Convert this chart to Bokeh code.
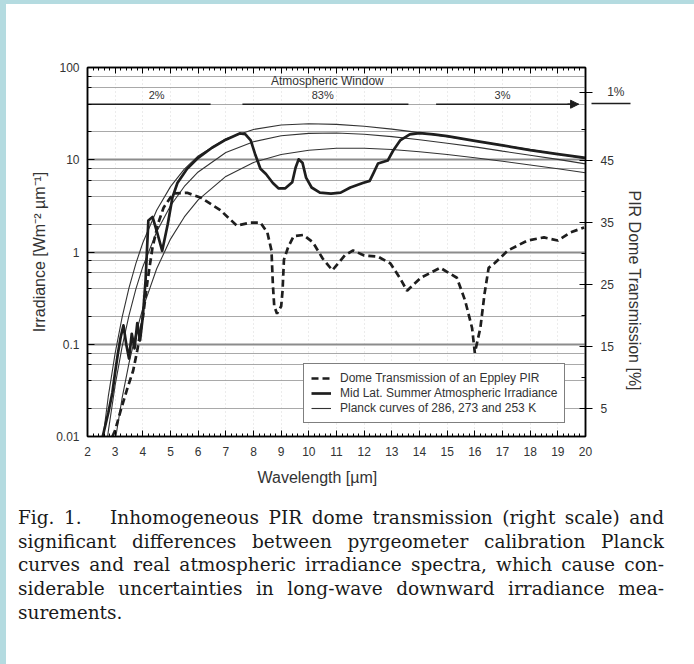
from bokeh.plotting import figure
from bokeh.models import (Range1d, LinearAxis, LinearScale, LogTicker, SingleIntervalTicker,
                          FixedTicker, CustomJSTickFormatter, Label, Legend, LegendItem, Arrow,
                          NormalHead, Div, Spacer, Title)
from bokeh.layouts import row, column
from bokeh.core.properties import value
from bokeh.embed import file_html
from bokeh.resources import INLINE

# ---------------- data ----------------
wl_planck = [2.5, 2.75, 3.0, 3.25, 3.5, 3.75, 4.0, 4.5, 5.0, 5.5, 6.0, 7.0, 8.0, 9.0, 10.0,
             11.0, 12.0, 13.0, 14.0, 15.0, 16.0, 17.0, 18.0, 19.0, 20.0]
planck_286 = [0.0070, 0.0270, 0.0803, 0.196, 0.408, 0.753, 1.26, 2.83, 5.11, 7.92, 11.0, 16.9,
              21.3, 23.8, 24.6, 24.2, 23.1, 21.5, 19.7, 17.8, 16.1, 14.4, 12.9, 11.5, 10.3]
planck_273 = [0.0027, 0.0113, 0.0361, 0.0936, 0.206, 0.398, 0.693, 1.66, 3.17, 5.13, 7.37, 12.0,
              15.7, 18.2, 19.3, 19.5, 18.9, 17.8, 16.5, 15.1, 13.8, 12.4, 11.2, 10.1, 9.03]
planck_253 = [0.00051, 0.0025, 0.0090, 0.0260, 0.0625, 0.131, 0.245, 0.658, 1.38, 2.40, 3.68,
              6.60, 9.35, 11.4, 12.7, 13.3, 13.3, 12.9, 12.2, 11.4, 10.5, 9.63, 8.78, 7.98, 7.23]

wl_atm = [2.55, 2.75, 2.9, 3.0, 3.1, 3.2, 3.3, 3.4, 3.5, 3.6, 3.7, 3.8, 3.9, 4.0, 4.1, 4.2,
          4.35, 4.5, 4.7, 4.9, 5.07, 5.25, 5.6, 6.0, 6.5, 7.0, 7.5, 7.7, 7.9, 8.05, 8.25, 8.45,
          8.7, 8.9, 9.15, 9.4, 9.52, 9.63, 9.77, 9.9, 10.1, 10.4, 10.8, 11.15, 11.5, 11.95,
          12.2, 12.35, 12.5, 12.85, 13.05, 13.3, 13.65, 14.0, 14.5, 15.0, 16.0, 17.0, 18.0,
          19.0, 20.0]
irr_atm = [0.010, 0.018, 0.030, 0.05, 0.08, 0.12, 0.16, 0.10, 0.07, 0.13, 0.09, 0.17, 0.11,
           0.20, 0.50, 2.2, 2.4, 1.7, 1.03, 2.0, 3.9, 5.6, 8.0, 10.5, 13.5, 16.5, 19.3, 19.0,
           16.2, 11.7, 8.0, 7.0, 5.6, 4.9, 4.9, 5.7, 8.2, 10.1, 9.3, 6.4, 5.0, 4.4, 4.3, 4.4,
           5.0, 5.6, 5.9, 7.3, 9.1, 9.8, 12.6, 16.2, 18.8, 19.4, 18.8, 18.0, 16.0, 14.3, 12.7,
           11.5, 10.5]

wl_dome = [2.9, 3.0, 3.2, 3.45, 3.65, 3.8, 4.0, 4.17, 4.35, 4.55, 4.75, 5.1, 5.6, 6.1, 6.8,
           7.4, 7.9, 8.25, 8.5, 8.65, 8.7, 8.75, 8.85, 9.0, 9.05, 9.1, 9.25, 9.45, 9.8, 10.15,
           10.5, 10.85, 11.3, 11.6, 12.0, 12.5, 12.95, 13.3, 13.55, 14.05, 14.75, 15.35, 15.65,
           15.9, 16.0, 16.2, 16.35, 16.5, 16.7, 17.2, 17.9, 18.5, 19.0, 19.45, 19.95]
dome_pct = [0.5, 1.5, 4.7, 8.4, 11.1, 14.4, 19.7, 25.6, 31.0, 34.8, 37.4, 39.7, 39.8, 39.0,
            37.0, 34.5, 35.0, 35.0, 33.4, 30.5, 25.0, 21.5, 20.3, 21.5, 24.0, 29.0, 31.0, 32.8,
            33.0, 31.8, 29.2, 27.3, 29.7, 30.5, 29.7, 29.5, 28.4, 26.0, 24.0, 26.1, 27.7, 26.1,
            22.4, 18.0, 14.0, 18.0, 23.5, 27.7, 28.4, 30.5, 32.1, 32.6, 32.1, 33.4, 34.2]

win_start = [2.0, 7.6, 14.6]
win_end = [6.45, 13.6, 19.75]
win_label = ["2%", "83%", "3%"]
win_label_x = [4.5, 10.5, 17.0]
win_level = [40, 40, 40]

pct_ticks = [5, 15, 25, 35, 45]
pct_minor = [10, 20, 30, 40, 50]
outside_label_level = 56.0   # "1%" window label beyond the right edge (right-scale units)
outside_line_level = 54.2    # its marker line

caption_lines = [
    "Fig. 1.&nbsp;&nbsp; Inhomogeneous PIR dome transmission (right scale) and",
    "significant differences between pyrgeometer calibration Planck",
    "curves and real atmospheric irradiance spectra, which cause con-",
    "siderable uncertainties in long-wave downward irradiance mea-",
    "surements.",
]

SANS = "Liberation Sans"
INK = "#1e1e1e"
TXT = "#333333"

# ---------------- figure ----------------
p = figure(width=688, height=496, x_range=Range1d(2, 20), y_range=Range1d(0.01, 100),
           y_axis_type="log", output_backend="svg", toolbar_location=None,
           min_border_left=81, min_border_right=109, min_border_top=63, min_border_bottom=64,
           background_fill_color="white", border_fill_color="white")
p.extra_y_ranges = {"pct": Range1d(0.5, 60)}
p.extra_y_scales = {"pct": LinearScale()}
p.outline_line_color = "black"
p.outline_line_width = 1.5

# bottom axis
xa = p.xaxis[0]
xa.ticker = SingleIntervalTicker(interval=1, num_minor_ticks=5)
xa.major_tick_in = 6
xa.major_tick_out = 0
xa.minor_tick_in = 3
xa.minor_tick_out = 0
xa.major_label_standoff = 10
xa.major_label_text_font = SANS
xa.major_label_text_font_size = "12px"
xa.major_label_text_color = TXT
xa.axis_line_color = "black"
xa.axis_line_width = 1.5

top = LinearAxis(ticker=SingleIntervalTicker(interval=1, num_minor_ticks=5),
                 major_tick_in=6, major_tick_out=0, minor_tick_in=3, minor_tick_out=0,
                 major_label_text_color=None, axis_line_color="black", axis_line_width=1.5)
p.add_layout(top, "above")

# left log axis
ya = p.yaxis[0]
ya.ticker = LogTicker()
ya.formatter = CustomJSTickFormatter(code="return Number(tick.toPrecision(3)).toString();")
ya.major_tick_in = 7
ya.major_tick_out = 0
ya.minor_tick_in = 4
ya.minor_tick_out = 0
ya.major_label_standoff = 8
ya.major_label_text_font = SANS
ya.major_label_text_font_size = "12px"
ya.major_label_text_color = TXT
ya.axis_line_color = "black"
ya.axis_line_width = 1.5
ya.axis_label = "Irradiance [Wm\u207b\u00b2 \u00b5m\u207b\u00b9]"
ya.axis_label_text_font = SANS
ya.axis_label_text_font_size = "16px"
ya.axis_label_text_font_style = "normal"
ya.axis_label_text_color = TXT
ya.axis_label_standoff = 5

# right percentage axis (plus the "1%" window label beyond the edge)
ra = LinearAxis(y_range_name="pct",
                ticker=FixedTicker(ticks=pct_ticks + [outside_label_level], minor_ticks=pct_minor),
                formatter=CustomJSTickFormatter(
                    code="return tick > 52 ? '\\u00a0\\u00a01%' : tick.toString();"),
                major_tick_in=6, major_tick_out=7, minor_tick_in=4, minor_tick_out=0,
                major_label_standoff=8, major_label_text_font=SANS,
                major_label_text_font_size="12px", major_label_text_color=TXT,
                axis_line_color="black", axis_line_width=1.5)
p.add_layout(ra, "right")

# marker line of the "1%" window outside the frame
ax2 = LinearAxis(y_range_name="pct", ticker=FixedTicker(ticks=[outside_line_level], minor_ticks=[]),
                 formatter=CustomJSTickFormatter(code="return '';"),
                 major_tick_in=36, major_tick_out=3, major_tick_line_color=INK,
                 major_tick_line_width=1.3, minor_tick_line_color=None,
                 major_label_standoff=0, major_label_text_color=None, axis_line_color=None)
p.add_layout(ax2, "right")

# axis titles placed as in the scan
p.add_layout(Title(text="PIR Dome Transmission [%]", align="left", offset=123, standoff=-10,
                   text_font=SANS, text_font_size="16px", text_font_style="normal",
                   text_color=TXT), "right")
p.add_layout(Title(text="Wavelength [\u00b5m]", align="left", offset=170, standoff=17,
                   text_font=SANS, text_font_size="16px", text_font_style="normal",
                   text_color=TXT), "below")

# grids
p.xgrid.grid_line_color = "#c8c8c8"
p.xgrid.grid_line_dash = "1 3"
p.xgrid.grid_line_alpha = 0.7
p.ygrid.grid_line_color = "#8c8c8c"
p.ygrid.grid_line_width = 2
p.ygrid.minor_grid_line_color = "#9a9a9a"
p.ygrid.minor_grid_line_width = 1.2
p.ygrid.minor_grid_line_alpha = 0.85

# curves
r286 = p.line(wl_planck, planck_286, line_color="#333333", line_width=1.1)
p.line(wl_planck, planck_273, line_color="#333333", line_width=1.1)
p.line(wl_planck, planck_253, line_color="#333333", line_width=1.1)
r_atm = p.line(wl_atm, irr_atm, line_color=INK, line_width=2.7, line_join="round")
r_dome = p.line(wl_dome, dome_pct, y_range_name="pct", line_color=INK, line_width=2.7,
                line_dash="7 4")

legend = Legend(items=[
    LegendItem(label="Dome Transmission of an Eppley PIR", renderers=[r_dome]),
    LegendItem(label="Mid Lat. Summer Atmospheric Irradiance", renderers=[r_atm]),
    LegendItem(label="Planck curves of 286, 273 and 253 K", renderers=[r286]),
], location=(216, 13))
legend.border_line_color = "black"
legend.border_line_width = 1.2
legend.background_fill_color = "white"
legend.background_fill_alpha = 1
legend.label_text_font = SANS
legend.label_text_font_size = "12px"
legend.label_text_color = TXT
legend.padding = 7
legend.spacing = 1
legend.margin = 0
legend.label_height = 14
legend.glyph_height = 14
legend.glyph_width = 20
legend.label_standoff = 9
p.add_layout(legend)

# atmospheric window markers
p.segment(x0=win_start, y0=win_level, x1=win_end, y1=win_level, line_color=INK, line_width=1.6)
p.text(x=win_label_x, y=[43, 43, 43], text=win_label, text_font=value(SANS),
       text_font_size="11px", text_color=TXT, text_align="center", text_baseline="bottom")
p.add_layout(Arrow(end=NormalHead(size=8, fill_color=INK, line_color=INK),
                   x_start=win_end[2] - 0.4, y_start=win_level[2],
                   x_end=win_end[2], y_end=win_level[2], line_color=INK, line_width=1.6))
p.add_layout(Label(x=10.67, y=356, y_units="screen", text="Atmospheric Window",
                   text_font=SANS, text_font_size="12px", text_color=TXT,
                   text_align="center", text_baseline="middle"))

# caption
inner = "".join(
    '<div style="text-align:justify;text-align-last:justify;">%s</div>' % l
    for l in caption_lines[:-1]) + '<div>%s</div>' % caption_lines[-1]
html = ('<div style="width:653px;padding:1px 0 0 7px;font-family:\'DejaVu Serif\',serif;'
        'font-size:18.5px;line-height:23.7px;color:#1a1a1a;">' + inner + '</div>')
cap = Div(text=html, width=688, height=164, styles={"background-color": "white"})

BLUE = "#b4dbe0"
left_strip = Spacer(width=6, height=664, styles={"background-color": BLUE})
top_strip = Spacer(width=688, height=4, styles={"background-color": BLUE})
layout = row(left_strip, column(top_strip, p, cap))

open("out.html", "w").write(file_html(layout, INLINE))
